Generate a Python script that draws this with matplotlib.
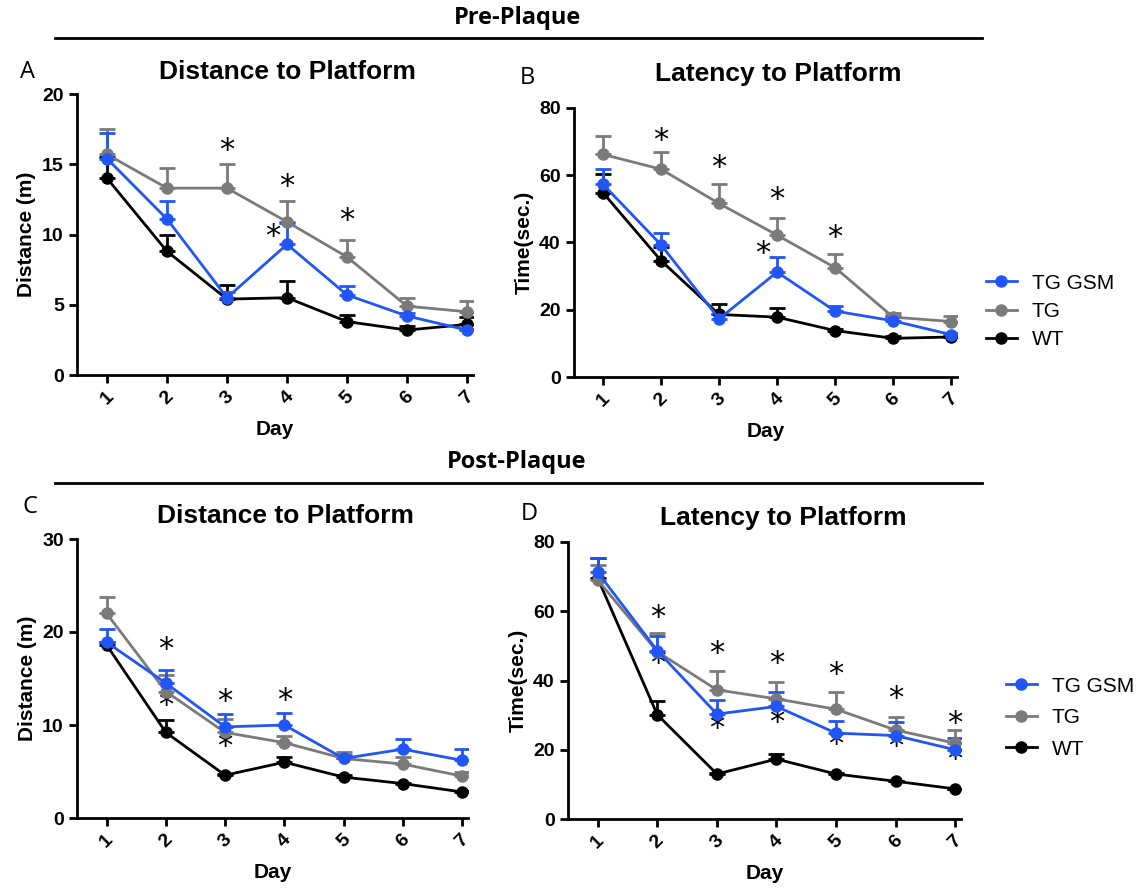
import matplotlib
matplotlib.use('Agg')
import matplotlib.pyplot as plt
from matplotlib.lines import Line2D

plt.rcParams['font.family'] = ['Liberation Sans', 'DejaVu Sans']

days = [1, 2, 3, 4, 5, 6, 7]
groups = ['TG GSM', 'TG', 'WT']
colors = {'TG GSM': '#2255f5', 'TG': '#7a7a7a', 'WT': '#000000'}

# A: pre-plaque distance (m)
a_gsm = [15.4, 11.1, 5.5, 9.3, 5.7, 4.2, 3.2]
a_gsm_sem = [1.8, 1.3, 0.4, 1.5, 0.6, 0.2, 0.1]
a_tg = [15.7, 13.3, 13.3, 10.9, 8.4, 4.9, 4.5]
a_tg_sem = [1.8, 1.4, 1.7, 1.5, 1.2, 0.6, 0.8]
a_wt = [14.0, 8.8, 5.4, 5.5, 3.8, 3.2, 3.6]
a_wt_sem = [1.5, 1.2, 1.0, 1.2, 0.5, 0.3, 0.5]
a_star_x = [3, 4, 5, 3.76]
a_star_y = [16.0, 13.4, 11.0, 9.85]

# B: pre-plaque latency (sec)
b_gsm = [57.3, 39.3, 17.3, 31.2, 19.6, 16.7, 12.6]
b_gsm_sem = [4.7, 3.6, 1.5, 4.6, 1.5, 1.3, 0.6]
b_tg = [66.2, 61.8, 51.6, 42.2, 32.5, 17.8, 16.5]
b_tg_sem = [5.5, 5.0, 5.7, 5.0, 4.0, 1.3, 1.7]
b_wt = [54.8, 34.6, 18.6, 17.8, 13.8, 11.5, 11.9]
b_wt_sem = [5.5, 4.2, 3.0, 2.8, 0.5, 0.6, 0.4]
b_star_x = [2, 3, 4, 5, 3.76]
b_star_y = [70.4, 62.2, 52.8, 41.4, 36.8]

# C: post-plaque distance (m)
c_gsm = [18.9, 14.5, 9.8, 10.0, 6.4, 7.4, 6.2]
c_gsm_sem = [1.4, 1.4, 1.4, 1.3, 0.4, 1.1, 1.2]
c_tg = [22.0, 13.6, 9.2, 8.1, 6.4, 5.8, 4.5]
c_tg_sem = [1.8, 1.8, 1.4, 0.7, 0.7, 0.8, 0.5]
c_wt = [18.6, 9.2, 4.6, 6.0, 4.4, 3.7, 2.8]
c_wt_sem = [0.3, 1.3, 0.1, 0.6, 0.2, 0.1, 0.1]
c_star_x = [2, 2, 3, 3, 4]
c_star_y = [18.1, 12.1, 12.5, 7.65, 12.6]

# D: post-plaque latency (sec)
d_gsm = [71.2, 48.6, 30.3, 32.5, 24.8, 24.1, 20.0]
d_gsm_sem = [4.2, 4.3, 4.1, 4.3, 3.6, 3.9, 3.5]
d_tg = [69.0, 48.3, 37.3, 34.7, 31.7, 25.7, 21.9]
d_tg_sem = [4.3, 5.5, 5.3, 4.8, 4.9, 3.7, 3.7]
d_wt = [69.5, 30.1, 13.0, 17.3, 13.0, 10.9, 8.7]
d_wt_sem = [5.9, 4.1, 0.2, 1.5, 0.2, 0.1, 0.1]
d_star_x = [2, 3, 4, 5, 6, 7, 2, 3, 4, 5, 6, 7]
d_star_y = [58.2, 47.8, 44.8, 41.6, 34.9, 27.7, 44.8, 26.2, 28.0, 21.4, 20.9, 17.3]


def panel(ax, gsm, gsm_sem, tg, tg_sem, wt, wt_sem, sx, sy, ymax, ystep, ylabel):
    series = [('WT', wt, wt_sem), ('TG', tg, tg_sem), ('TG GSM', gsm, gsm_sem)]
    for name, vals, sem in series:
        ax.errorbar(days, vals, yerr=[[0] * len(sem), sem], color=colors[name],
                    lw=2, marker='o', ms=8, capsize=6, capthick=2, elinewidth=2, zorder=3)
    for x, y in zip(sx, sy):
        ax.text(x, y, '*', fontsize=22, ha='center', va='center', family='DejaVu Sans')
    ax.set_xlim(0.5, 7.1)
    ax.set_ylim(0, ymax)
    ax.set_yticks(range(0, ymax + 1, ystep))
    ax.set_xticks(days)
    ax.set_xticklabels([str(d) for d in days], rotation=45, ha='center')
    for s in ['top', 'right']:
        ax.spines[s].set_visible(False)
    for s in ['left', 'bottom']:
        ax.spines[s].set_linewidth(2)
    ax.tick_params(width=2, length=6, labelsize=14)
    for lab in ax.get_xticklabels() + ax.get_yticklabels():
        lab.set_fontweight('bold')
    ax.set_xlabel('Day', fontsize=15, fontweight='bold', labelpad=9)
    ax.set_ylabel(ylabel, fontsize=15, fontweight='bold')


fig = plt.figure(figsize=(11.48, 8.88), dpi=100)
W, H = 1148, 888


def add_ax(left, top, right, bottom):
    return fig.add_axes([left / W, 1 - bottom / H, (right - left) / W, (bottom - top) / H])


axA = add_ax(77, 94, 473, 375)
axB = add_ax(574, 108, 957, 377)
axC = add_ax(77, 539, 468, 818)
axD = add_ax(568, 542, 961, 819)

panel(axA, a_gsm, a_gsm_sem, a_tg, a_tg_sem, a_wt, a_wt_sem, a_star_x, a_star_y,
      20, 5, 'Distance (m)')
panel(axB, b_gsm, b_gsm_sem, b_tg, b_tg_sem, b_wt, b_wt_sem, b_star_x, b_star_y,
      80, 20, 'Time(sec.)')
panel(axC, c_gsm, c_gsm_sem, c_tg, c_tg_sem, c_wt, c_wt_sem, c_star_x, c_star_y,
      30, 10, 'Distance (m)')
panel(axD, d_gsm, d_gsm_sem, d_tg, d_tg_sem, d_wt, d_wt_sem, d_star_x, d_star_y,
      80, 20, 'Time(sec.)')

titles = [('Distance to Platform', 287, 72), ('Latency to Platform', 778, 74),
          ('Distance to Platform', 285, 516), ('Latency to Platform', 783, 518)]
for t, x, y in titles:
    fig.text(x / W, 1 - y / H, t, fontsize=19, fontweight='bold', ha='center', va='center')

handles = [Line2D([], [], color=colors[g], lw=2, marker='o', ms=8) for g in groups]
fig.legend(handles, groups, loc='upper left', bbox_to_anchor=(967 / W, 1 - 255 / H),
           frameon=False, fontsize=15, handlelength=1.5, labelspacing=0.45, handletextpad=0.7)
fig.legend(handles, groups, loc='upper left', bbox_to_anchor=(987 / W, 1 - 658 / H),
           frameon=False, fontsize=15, handlelength=1.5, labelspacing=0.6, handletextpad=0.7)

for letter, x, y in [('A', 27, 72), ('B', 527, 78), ('C', 30, 507), ('D', 529, 514)]:
    fig.text(x / W, 1 - y / H, letter, fontsize=17, ha='center', va='center', family='Open Sans')

fig.text(517 / W, 1 - 18 / H, 'Pre-Plaque', fontsize=17, fontweight='bold', ha='center',
         va='center', family='Open Sans')
fig.text(517 / W, 1 - 462 / H, 'Post-Plaque', fontsize=17, fontweight='bold', ha='center',
         va='center', family='Open Sans')
fig.add_artist(Line2D([55 / W, 982 / W], [1 - 38 / H, 1 - 38 / H], color='black', lw=2))
fig.add_artist(Line2D([55 / W, 982 / W], [1 - 483 / H, 1 - 483 / H], color='black', lw=2))

fig.savefig('out.png', dpi=100)
